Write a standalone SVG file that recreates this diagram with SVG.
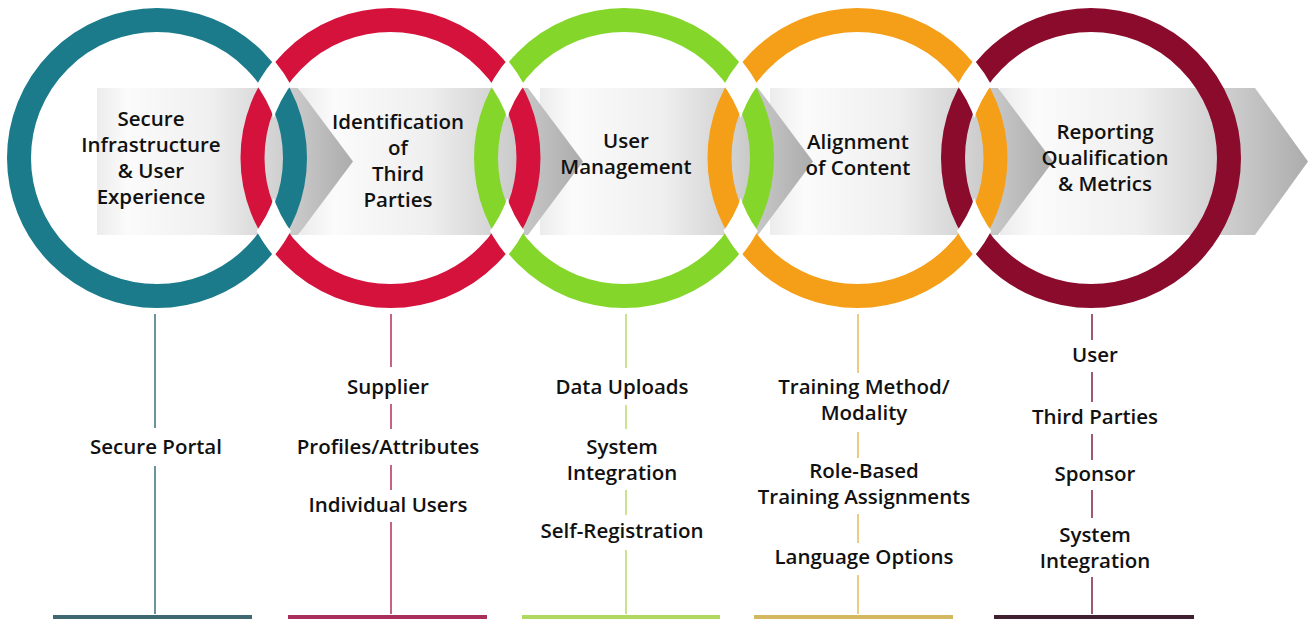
<svg xmlns="http://www.w3.org/2000/svg" width="1313" height="619" viewBox="0 0 1313 619">
<style>
.ring{fill:none;stroke-width:24}
.t{font-family:"Open Sans","Liberation Sans",sans-serif;font-weight:600;font-size:20.5px;text-anchor:middle;fill:#111}
.ln{fill:none;stroke-width:1.5}
.seg{fill:url(#g)}
.cut{fill:none;stroke:#fff;stroke-width:29}
</style>
<defs>
<linearGradient id="g" x1="0" y1="0" x2="1" y2="0">
<stop offset="0" stop-color="#ececec"/>
<stop offset="0.12" stop-color="#fbfbfb"/>
<stop offset="0.45" stop-color="#efefef"/>
<stop offset="0.8" stop-color="#c6c6c6"/>
<stop offset="1" stop-color="#acacac"/>
</linearGradient>
<clipPath id="a1"><path clip-rule="evenodd" d="M4.5 158a152.5 152.5 0 1 0 305 0a152.5 152.5 0 1 0-305 0ZM33.5 158a123.5 123.5 0 1 0 247 0a123.5 123.5 0 1 0-247 0Z"/></clipPath>
<clipPath id="a2"><path clip-rule="evenodd" d="M238 158a152.5 152.5 0 1 0 305 0a152.5 152.5 0 1 0-305 0ZM267 158a123.5 123.5 0 1 0 247 0a123.5 123.5 0 1 0-247 0Z"/></clipPath>
<clipPath id="a3"><path clip-rule="evenodd" d="M471.5 158a152.5 152.5 0 1 0 305 0a152.5 152.5 0 1 0-305 0ZM500.5 158a123.5 123.5 0 1 0 247 0a123.5 123.5 0 1 0-247 0Z"/></clipPath>
<clipPath id="a4"><path clip-rule="evenodd" d="M705 158a152.5 152.5 0 1 0 305 0a152.5 152.5 0 1 0-305 0ZM734 158a123.5 123.5 0 1 0 247 0a123.5 123.5 0 1 0-247 0Z"/></clipPath>
</defs>
<rect width="1313" height="619" fill="#fff"/>
<g id="arrow">
<polygon class="seg" points="1000,88 1255,88 1308,161.5 1255,235 1000,235"/>
<polygon class="seg" points="770,88 998,88 1053,161.5 998,235 770,235"/>
<polygon class="seg" points="540,88 758,88 813,161.5 758,235 540,235"/>
<polygon class="seg" points="300,88 528,88 583,161.5 528,235 300,235"/>
<polygon class="seg" points="97,88 298,88 353,161.5 298,235 97,235"/>
</g>
<g id="connectors">
<g stroke="#3d6f79" class="ln"><path d="M155 314V428M155 466V614"/></g>
<g stroke="#b3305c" class="ln"><path d="M391 314V367M391 404V429M391 465V490M391 522V614"/></g>
<g stroke="#b9da6a" class="ln"><path d="M626 314V368M626 405V429M626 490V515M626 550V614"/></g>
<g stroke="#e9bb5a" class="ln"><path d="M858 314V373M858 432V458M858 514V543M858 575V614"/></g>
<g stroke="#7b2443" class="ln"><path d="M1092 314V340M1092 372V402M1092 434V460M1092 490V518M1092 577V614"/></g>
</g>
<g id="node-1">
<circle class="ring" cx="157" cy="158" r="138" stroke="#1b7b8b"/>
<text class="t" x="151" y="126">Secure</text>
<text class="t" x="151" y="152">Infrastructure</text>
<text class="t" x="151" y="178">&amp; User</text>
<text class="t" x="151" y="204">Experience</text>
<text class="t" x="156" y="454">Secure Portal</text>
<rect x="53" y="615" width="199" height="4" fill="#3f6870"/>
</g>
<g id="node-2">
<circle class="ring" cx="390.5" cy="158" r="138" stroke="#d5123c"/>
<text class="t" x="398" y="128.5">Identification</text>
<text class="t" x="398" y="154.5">of</text>
<text class="t" x="398" y="180.5">Third</text>
<text class="t" x="398" y="206.5">Parties</text>
<text class="t" x="388" y="394">Supplier</text>
<text class="t" x="388" y="454">Profiles/Attributes</text>
<text class="t" x="388" y="512">Individual Users</text>
<rect x="288" y="615" width="199" height="4" fill="#a8305a"/>
</g>
<g id="node-3">
<circle class="ring" cx="624" cy="158" r="138" stroke="#84d62a"/>
<text class="t" x="626" y="148">User</text>
<text class="t" x="626" y="174">Management</text>
<text class="t" x="622" y="394">Data Uploads</text>
<text class="t" x="622" y="454">System</text>
<text class="t" x="622" y="480">Integration</text>
<text class="t" x="622" y="538">Self-Registration</text>
<rect x="522" y="615" width="198" height="4" fill="#b0d860"/>
</g>
<g id="node-4">
<circle class="ring" cx="857.5" cy="158" r="138" stroke="#f59e18"/>
<text class="t" x="858" y="148.5">Alignment</text>
<text class="t" x="858" y="174.5">of Content</text>
<text class="t" x="864" y="394">Training Method/</text>
<text class="t" x="864" y="420">Modality</text>
<text class="t" x="864" y="477.5">Role-Based</text>
<text class="t" x="864" y="503.5">Training Assignments</text>
<text class="t" x="864" y="564">Language Options</text>
<rect x="754" y="615" width="199" height="4" fill="#d4b860"/>
</g>
<g id="node-5">
<circle class="ring" cx="1091" cy="158" r="138" stroke="#8b0b2d"/>
<text class="t" x="1105" y="139">Reporting</text>
<text class="t" x="1105" y="165">Qualification</text>
<text class="t" x="1105" y="191">&amp; Metrics</text>
<text class="t" x="1095" y="362">User</text>
<text class="t" x="1095" y="424">Third Parties</text>
<text class="t" x="1095" y="481">Sponsor</text>
<text class="t" x="1095" y="541.5">System</text>
<text class="t" x="1095" y="567.5">Integration</text>
<rect x="994" y="615" width="200" height="4" fill="#402030"/>
</g>
<g id="crossings">
<circle class="cut" cx="390.5" cy="158" r="138" clip-path="url(#a1)"/>
<circle class="cut" cx="624" cy="158" r="138" clip-path="url(#a2)"/>
<circle class="cut" cx="857.5" cy="158" r="138" clip-path="url(#a3)"/>
<circle class="cut" cx="1091" cy="158" r="138" clip-path="url(#a4)"/>
</g>
</svg>
